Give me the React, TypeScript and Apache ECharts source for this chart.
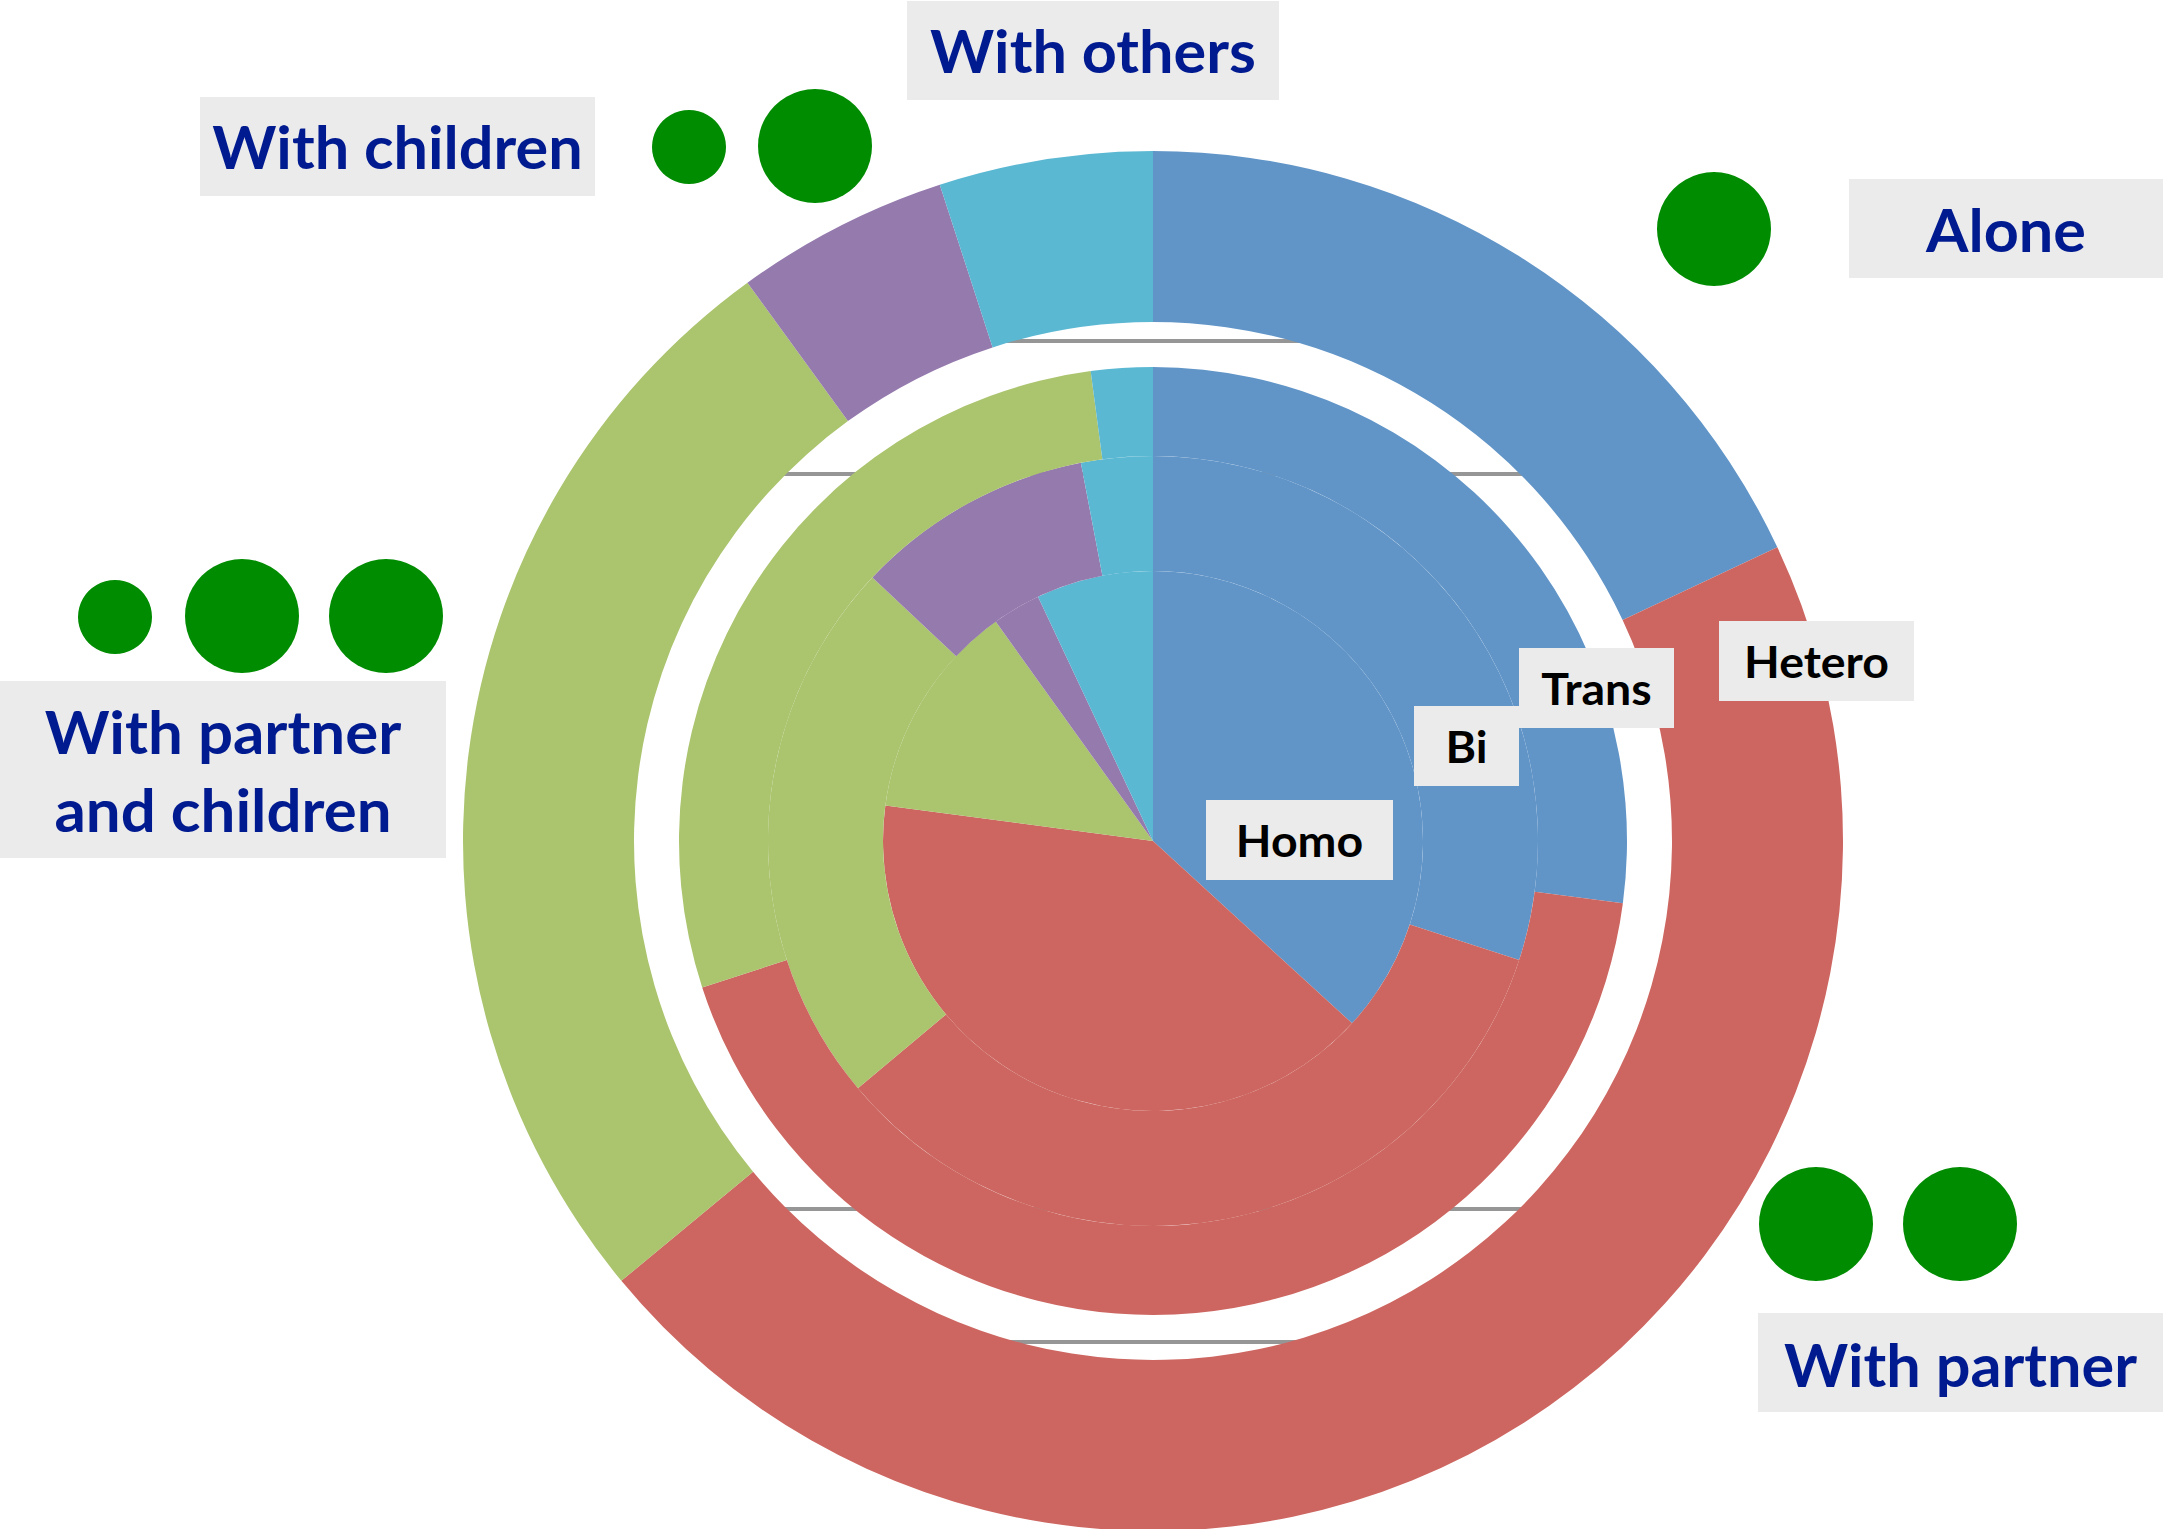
import React, { useEffect, useRef } from "react";
import * as echarts from "echarts";

const categories = ["Alone", "With partner", "With partner and children", "With children", "With others"];
const colors = ["#6195C8", "#CD6660", "#ABC46E", "#957AAE", "#5BB8D3"];
const homoValues = [36.8, 40.3, 13.0, 2.9, 7.0];
const biValues = [30.0, 33.9, 23.1, 10.0, 3.0];
const transValues = [27.1, 42.9, 27.9, 0, 2.1];
const heteroValues = [18.0, 46.0, 26.0, 5.0, 5.0];
const rings = [
  { name: "Homo", values: homoValues, radius: [0, 270] },
  { name: "Bi", values: biValues, radius: [270, 385] },
  { name: "Trans", values: transValues, radius: [385, 474] },
  { name: "Hetero", values: heteroValues, radius: [519, 690] },
];

const CX = 1153;
const CY = 841;

const navy = "#001A90";
const labelFont = "Lato";

const boxes = [
  { x: 907, y: 1, w: 372, h: 99, lines: [{ t: "With others", cy: 50 }], color: navy, size: 60, sx: 1.02 },
  { x: 200, y: 97, w: 395, h: 99, lines: [{ t: "With children", cy: 146 }], color: navy, size: 60, sx: 1.02 },
  { x: 1849, y: 179, w: 314, h: 99, lines: [{ t: "Alone", cy: 229 }], color: navy, size: 60, sx: 1.02 },
  { x: 0, y: 681, w: 446, h: 177, lines: [{ t: "With partner", cy: 731 }, { t: "and children", cy: 809 }], color: navy, size: 60, sx: 1.03 },
  { x: 1758, y: 1313, w: 405, h: 99, lines: [{ t: "With partner", cy: 1364 }], color: navy, size: 60, sx: 1.02 },
  { x: 1719, y: 621, w: 195, h: 80, lines: [{ t: "Hetero", cy: 662 }], color: "#000", size: 43, sx: 1.08 },
  { x: 1519, y: 648, w: 155, h: 80, lines: [{ t: "Trans", cy: 689 }], color: "#000", size: 43, sx: 1.08 },
  { x: 1414, y: 706, w: 105, h: 80, lines: [{ t: "Bi", cy: 747 }], color: "#000", size: 43, sx: 1.08 },
  { x: 1206, y: 800, w: 187, h: 80, lines: [{ t: "Homo", cy: 841 }], color: "#000", size: 43, sx: 1.08 },
];

const dots = [
  { x: 689, y: 147, r: 37 }, { x: 815, y: 146, r: 57 },
  { x: 1714, y: 229, r: 57 },
  { x: 115, y: 617, r: 37 }, { x: 242, y: 616, r: 57 }, { x: 386, y: 616, r: 57 },
  { x: 1816, y: 1224, r: 57 }, { x: 1960, y: 1224, r: 57 },
];

const rules = [
  { y: 341, x1: 1000, x2: 1305 },
  { y: 474, x1: 780, x2: 1525 },
  { y: 1209, x1: 780, x2: 1525 },
  { y: 1342, x1: 1000, x2: 1305 },
];

export default function App() {
  const ref = useRef<HTMLDivElement>(null);
  useEffect(() => {
    const chart = echarts.init(ref.current!, undefined, { renderer: "svg" });
    const graphic: any[] = [];
    rules.forEach((l) =>
      graphic.push({ type: "line", z: 0, silent: true, shape: { x1: l.x1, y1: l.y, x2: l.x2, y2: l.y }, style: { stroke: "#969696", lineWidth: 4 } })
    );
    dots.forEach((d) =>
      graphic.push({ type: "circle", z: 10, shape: { cx: d.x, cy: d.y, r: d.r }, style: { fill: "#008C00" } })
    );
    boxes.forEach((b) => {
      graphic.push({ type: "rect", z: 10, shape: { x: b.x, y: b.y, width: b.w, height: b.h }, style: { fill: "#EBEBEB" } });
      b.lines.forEach((l) =>
        graphic.push({
          type: "text", z: 11, x: b.x + b.w / 2, y: l.cy, scaleX: b.sx,
          style: { text: l.t, fill: b.color, font: `bold ${b.size}px ${labelFont}`, textAlign: "center", textVerticalAlign: "middle" },
        })
      );
    });
    chart.setOption({
      animation: false,
      backgroundColor: "#fff",
      color: colors,
      tooltip: { show: false },
      graphic,
      series: rings.map((r) => ({
        type: "pie",
        name: r.name,
        center: [CX, CY],
        radius: r.radius,
        startAngle: 90,
        clockwise: true,
        avoidLabelOverlap: false,
        label: { show: false },
        labelLine: { show: false },
        emphasis: { disabled: true },
        data: categories.map((c, i) => ({ name: c, value: r.values[i] })),
      })),
    });
    return () => chart.dispose();
  }, []);
  return <div ref={ref} style={{ position: "absolute", left: 0, top: 0, width: 2164, height: 1529 }} />;
}
